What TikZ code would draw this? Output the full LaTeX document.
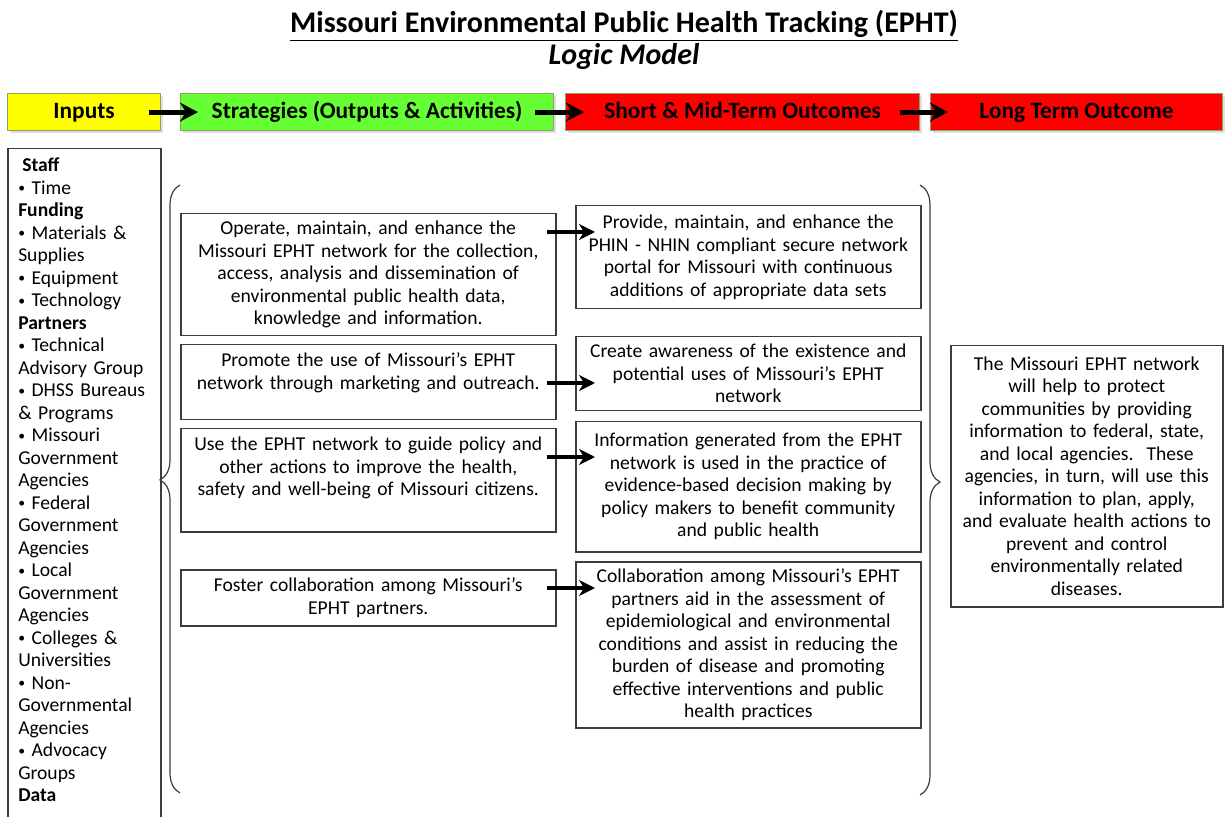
\documentclass[tikz,border=0pt]{standalone}
\usepackage{fontspec}
\setmainfont{Carlito}
\usetikzlibrary{arrows.meta,decorations.pathreplacing,shadows}

\definecolor{hdyellow}{RGB}{255,255,0}
\definecolor{hdgreen}{RGB}{102,255,51}
\definecolor{hdred}{RGB}{255,0,0}
\definecolor{hdedge}{RGB}{140,160,100}
\definecolor{boxedge}{RGB}{60,60,60}

\newcommand{\bodyfont}{\fontsize{9.8pt}{11.25pt}\selectfont}
\newcommand{\itm}{\raisebox{0.7pt}{\scalebox{0.7}{•}}\ }

\begin{document}
\begin{tikzpicture}[x=0.5pt,y=-0.5pt,
    header/.style={draw=hdedge, line width=0.6pt, anchor=north west, minimum height=18.5pt, inner sep=0pt,
        text height=8.5pt, text depth=2pt, font=\fontsize{11.7pt}{13pt}\selectfont\bfseries,
        drop shadow={opacity=0.25,shadow xshift=1pt,shadow yshift=-1pt}},
    txtbox/.style={draw=boxedge, line width=0.75pt, anchor=north west, align=center,
        inner xsep=3pt, inner ysep=3pt, font=\bodyfont},
    flow/.style={line width=2.5pt, -{Stealth[length=9pt,width=9.5pt,inset=3pt]}},
    link/.style={line width=2pt, -{Stealth[length=8pt,width=8pt,inset=2.5pt]}},
    curly/.style={decorate, decoration={brace,amplitude=10pt}, line width=0.6pt, draw=boxedge}]
    \useasboundingbox (0,0) rectangle (1225,817);

    % Title
    \node[font=\fontsize{15pt}{17pt}\selectfont\bfseries] (title) at (624,26)
        {\underline{Missouri Environmental Public Health Tracking (EPHT)}};
    \node[font=\fontsize{15pt}{17pt}\selectfont\bfseries\itshape] (subtitle) at (624,57) {Logic Model};

    % Header row
    \node[header, fill=hdyellow, minimum width=76.5pt] (inputs) at (7,93) {Inputs};
    \node[header, fill=hdgreen, minimum width=186.5pt] (strat) at (180,93) {Strategies (Outputs \& Activities)};
    \node[header, fill=hdred, minimum width=177pt] (short) at (565,93) {Short \& Mid-Term Outcomes};
    \node[header, fill=hdred, minimum width=146pt] (longhd) at (930,93) {Long Term Outcome};

    \draw[flow] ([xshift=-6pt]inputs.east) -- ([xshift=9pt]strat.west);
    \draw[flow] ([xshift=-9.5pt]strat.east) -- ([xshift=9.5pt]short.west);
    \draw[flow] ([xshift=-10pt]short.east) -- ([xshift=9pt]longhd.west);

    % Inputs
    \node[draw=boxedge, line width=0.75pt, anchor=north west, text width=66pt, align=left,
        inner xsep=5.25pt, inner ysep=3pt, text height=8.5pt, text depth=340pt, font=\bodyfont] (inlist) at (7,148)
        {\hspace{2pt}\textbf{Staff}\\ \itm Time\\ \textbf{Funding}\\ \itm Materials \&\\ Supplies\\ \itm Equipment\\
         \itm Technology\\ \textbf{Partners}\\ \itm Technical\\ Advisory Group\\ \itm DHSS Bureaus\\ \& Programs\\
         \itm Missouri\\ Government\\ Agencies\\ \itm Federal\\ Government\\ Agencies\\ \itm Local\\ Government\\
         Agencies\\ \itm Colleges \&\\ Universities\\ \itm Non-\\ Governmental\\ Agencies\\ \itm Advocacy\\ Groups\\
         \textbf{Data}};

    % Strategies
    \node[txtbox, text width=181.5pt, minimum height=61pt] (s1) at (180,213)
        {Operate, maintain, and enhance the\\ Missouri EPHT network for the collection,\\
         access, analysis and dissemination of\\ environmental public health data,\\ knowledge and information.};
    \node[txtbox, text width=181.5pt, text height=8pt, text depth=23.5pt] (s2) at (180,344)
        {Promote the use of Missouri’s EPHT\\ network through marketing and outreach.};
    \node[txtbox, text width=181.5pt, text height=8pt, text depth=37.5pt] (s3) at (180,428)
        {Use the EPHT network to guide policy and\\ other actions to improve the health,\\
         safety and well-being of Missouri citizens.};
    \node[txtbox, text width=181.5pt, minimum height=28pt] (s4) at (180,569)
        {Foster collaboration among Missouri’s\\ EPHT partners.};

    % Short & mid-term outcomes
    \node[txtbox, text width=166.5pt, minimum height=51.5pt] (o1) at (575,205)
        {Provide, maintain, and enhance the\\ PHIN - NHIN compliant secure network\\
         portal for Missouri with continuous\\ additions of appropriate data sets};
    \node[txtbox, text width=166.5pt, minimum height=37pt] (o2) at (575,336)
        {Create awareness of the existence and\\ potential uses of Missouri’s EPHT\\ network};
    \node[txtbox, text width=166.5pt, minimum height=65pt] (o3) at (575,421)
        {Information generated from the EPHT\\ network is used in the practice of\\
         evidence-based decision making by\\ policy makers to benefit community\\ and public health};
    \node[txtbox, text width=166.5pt, minimum height=83pt] (o4) at (575,561)
        {Collaboration among Missouri’s EPHT\\ partners aid in the assessment of\\
         epidemiological and environmental\\ conditions and assist in reducing the\\
         burden of disease and promoting\\ effective interventions and public\\ health practices};

    % Long term outcome
    \node[txtbox, text width=132pt, inner xsep=2pt, minimum height=130.5pt] (goal) at (950,345)
        {The Missouri EPHT network\\ will help to protect\\ communities by providing\\
         information to federal, state,\\ and local agencies.\ \ These\\ agencies, in turn, will use this\\
         information to plan, apply,\\ and evaluate health actions to\\ prevent and control\\
         environmentally related\\ diseases.};

    \draw[link] ([shift={(-10,19)}]s1.north east) -- ([shift={(20,27)}]o1.north west);
    \draw[link] ([shift={(-10,39)}]s2.north east) -- ([shift={(20,47)}]o2.north west);
    \draw[link] ([shift={(-10,29)}]s3.north east) -- ([shift={(20,36)}]o3.north west);
    \draw[link] ([shift={(-10,19)}]s4.north east) -- ([shift={(20,27)}]o4.north west);

    % Braces
    \draw[curly, decoration={aspect=0.515}] (180,793) -- (180,185);
    \draw[curly, decoration={aspect=0.487}] (920,185) -- (920,795);
\end{tikzpicture}
\end{document}
